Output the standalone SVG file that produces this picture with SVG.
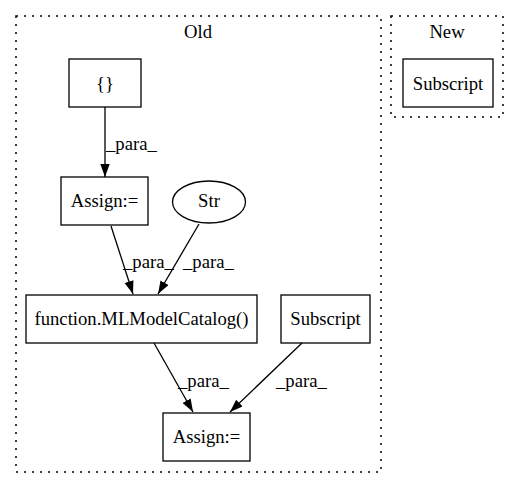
<svg xmlns="http://www.w3.org/2000/svg" width="520" height="488" viewBox="0 0 520 488">
<defs>
<style>
text{font-family:"Liberation Serif","Times New Roman",serif;font-size:18.67px;fill:#000}
.c{text-anchor:middle}
.cl{fill:none;stroke:#000;stroke-width:1.5;stroke-dasharray:2,6}
.n{fill:#fff;stroke:#000;stroke-width:1.3}
.e{fill:none;stroke:#000;stroke-width:1.3;marker-end:url(#ah)}
</style>
<marker id="ah" markerUnits="userSpaceOnUse" markerWidth="14" markerHeight="10" refX="13" refY="4.65" orient="auto">
<path d="M0,0 L13,4.65 L0,9.3 z" fill="#000"/>
</marker>
</defs>
<rect width="520" height="488" fill="#fff"/>
<g id="cluster_old">
<rect class="cl" x="16" y="16" width="365" height="456"/>
<text class="c" x="198" y="38">Old</text>
</g>
<g id="cluster_new">
<rect class="cl" x="391" y="16" width="112" height="101"/>
<text class="c" x="447" y="38">New</text>
</g>
<g id="new_subscript">
<rect class="n" x="403" y="59" width="90" height="48"/>
<text class="c" x="448" y="90">Subscript</text>
</g>
<g id="braces">
<rect class="n" x="69" y="59" width="72" height="48"/>
<text class="c" x="105" y="90">{}</text>
</g>
<g id="assign1">
<rect class="n" x="61" y="177" width="87" height="48"/>
<text class="c" x="104.5" y="207">Assign:=</text>
</g>
<g id="str">
<ellipse class="n" cx="209" cy="202" rx="36.5" ry="21"/>
<text class="c" x="209" y="207">Str</text>
</g>
<g id="mlmodelcatalog">
<rect class="n" x="26" y="295" width="231" height="48"/>
<text class="c" x="141.5" y="325">function.MLModelCatalog()</text>
</g>
<g id="old_subscript">
<rect class="n" x="281" y="295" width="89" height="48"/>
<text class="c" x="325.5" y="325">Subscript</text>
</g>
<g id="assign2">
<rect class="n" x="163" y="413" width="87" height="48"/>
<text class="c" x="206.5" y="443">Assign:=</text>
</g>
<g id="edges">
<path class="e" d="M105,107 L105,177"/>
<text x="106" y="150">_para_</text>
<path class="e" d="M111,226 L133,294"/>
<text x="123" y="268">_para_</text>
<path class="e" d="M199,224 L158,294"/>
<text x="183" y="268">_para_</text>
<path class="e" d="M154,343 L193,412"/>
<text x="178" y="387">_para_</text>
<path class="e" d="M302,343 L230,412"/>
<text x="276" y="387">_para_</text>
</g>
</svg>
